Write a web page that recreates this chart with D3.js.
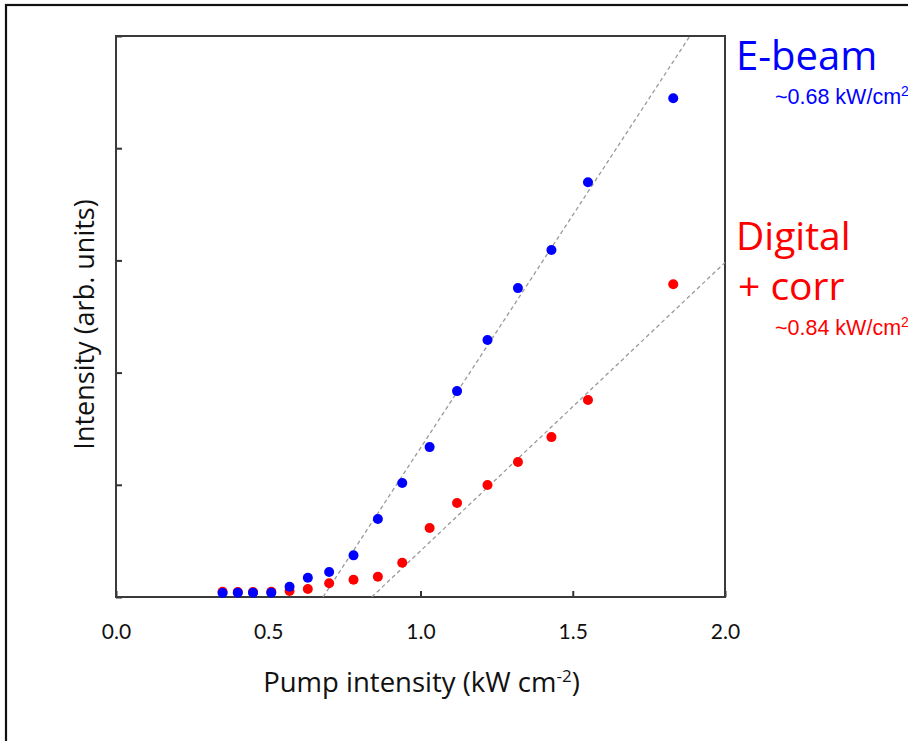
<!DOCTYPE html>
<html>
<head>
<meta charset="utf-8">
<script src="https://cdn.jsdelivr.net/npm/d3@7"></script>
<style>
  html, body { margin: 0; padding: 0; background: #fff; }
  svg { display: block; }
</style>
</head>
<body>
<script>
// Pump intensity (kW cm^-2) shared by both series
const pump = [0.35, 0.40, 0.45, 0.51, 0.57, 0.63, 0.70, 0.78, 0.86, 0.94, 1.03, 1.12, 1.22, 1.32, 1.43, 1.55, 1.83];
// Emission intensity (arb. units)
const ebeam = [0.036, 0.038, 0.038, 0.038, 0.092, 0.172, 0.223, 0.371, 0.695, 1.016, 1.336, 1.835, 2.290, 2.753, 3.092, 3.697, 4.445];
const digital = [0.047, 0.045, 0.045, 0.047, 0.053, 0.071, 0.122, 0.154, 0.181, 0.306, 0.615, 0.837, 0.998, 1.203, 1.425, 1.755, 2.788];
// Linear fits above threshold
const seriesNames = ["E-beam", "Digital"];
const thresholds = [0.68, 0.84];
const slopes = [4.15, 2.57];
const seriesColors = ["#0000ff", "#ff0000"];
// Axis ticks
const xTicks = [0, 0.5, 1.0, 1.5, 2.0];
const yTicks = [0, 1, 2, 3, 4, 5];

const W = 908, H = 741;
const plot = { left: 116, top: 36, right: 725, bottom: 597 };

const svg = d3.select("body").append("svg")
  .attr("width", W).attr("height", H);

// outer frame
svg.append("rect")
  .attr("x", 6).attr("y", 5)
  .attr("width", W + 20).attr("height", H + 20)
  .attr("fill", "none").attr("stroke", "#111").attr("stroke-width", 2.2);

const x = d3.scaleLinear().domain([0, 2]).range([plot.left, plot.right]);
const y = d3.scaleLinear().domain([0, 5]).range([plot.bottom, plot.top]);

svg.append("defs").append("clipPath").attr("id", "plotClip")
  .append("rect")
  .attr("x", plot.left).attr("y", plot.top)
  .attr("width", plot.right - plot.left).attr("height", plot.bottom - plot.top);

// axes with inward ticks
const xAxis = svg.append("g")
  .attr("transform", `translate(0,${plot.bottom})`)
  .call(d3.axisBottom(x).tickValues(xTicks).tickFormat(d3.format(".1f"))
    .tickSizeInner(-6).tickSizeOuter(0).tickPadding(27));
xAxis.select(".domain").remove();
xAxis.selectAll(".tick line").attr("stroke", "#333").attr("stroke-width", 2);
xAxis.selectAll(".tick text")
  .attr("font-family", "Lato, 'Open Sans', sans-serif")
  .attr("font-size", 21).attr("fill", "#111");

const yAxis = svg.append("g")
  .attr("transform", `translate(${plot.left},0)`)
  .call(d3.axisLeft(y).tickValues(yTicks).tickFormat("")
    .tickSizeInner(-6).tickSizeOuter(0));
yAxis.select(".domain").remove();
yAxis.selectAll(".tick line").attr("stroke", "#333").attr("stroke-width", 2);

// plot frame
svg.append("rect")
  .attr("x", plot.left).attr("y", plot.top)
  .attr("width", plot.right - plot.left).attr("height", plot.bottom - plot.top)
  .attr("fill", "none").attr("stroke", "#3a3a3a").attr("stroke-width", 2);

// fit lines
const fits = svg.append("g").attr("clip-path", "url(#plotClip)");
thresholds.forEach((t, i) => {
  fits.append("line")
    .attr("x1", x(t)).attr("y1", y(0))
    .attr("x2", x(2)).attr("y2", y(slopes[i] * (2 - t)))
    .attr("stroke", "#9a9a9a").attr("stroke-width", 1.3)
    .attr("stroke-dasharray", "4,3");
});

// data points: digital first, e-beam on top
[digital, ebeam].forEach((vals, k) => {
  const color = k === 0 ? seriesColors[1] : seriesColors[0];
  svg.append("g").selectAll("circle")
    .data(pump.map((p, i) => [p, vals[i]]))
    .join("circle")
    .attr("cx", d => x(d[0])).attr("cy", d => y(d[1]))
    .attr("r", 5).attr("fill", color);
});

// axis titles
const xt = svg.append("text")
  .attr("x", (plot.left + plot.right) / 2 + 1).attr("y", 692)
  .attr("text-anchor", "middle")
  .attr("font-family", "'Open Sans', sans-serif").attr("font-size", 27.5).attr("fill", "#111");
xt.append("tspan").text("Pump intensity (kW cm");
xt.append("tspan").attr("font-size", 17).attr("dy", -10).text("-2");
xt.append("tspan").attr("dy", 10).text(")");

svg.append("text")
  .attr("transform", `translate(94,${(plot.top + plot.bottom) / 2 + 8}) rotate(-90)`)
  .attr("text-anchor", "middle")
  .attr("font-family", "'Open Sans', sans-serif").attr("font-size", 27).attr("fill", "#111")
  .text("Intensity (arb. units)");

// series labels
const big = "'Open Sans', sans-serif";
svg.append("text").attr("x", 736).attr("y", 70)
  .attr("font-family", big).attr("font-size", 40).attr("fill", seriesColors[0])
  .text("E-beam");
svg.append("text").attr("x", 736).attr("y", 250)
  .attr("font-family", big).attr("font-size", 39).attr("fill", seriesColors[1])
  .text("Digital");
svg.append("text").attr("x", 738).attr("y", 300)
  .attr("font-family", big).attr("font-size", 39).attr("fill", seriesColors[1])
  .attr("xml:space", "preserve")
  .text("+ corr");

function thrLabel(t, yPos, color) {
  const g = svg.append("text").attr("x", 775).attr("y", yPos)
    .attr("font-family", "'Liberation Sans', Arial, sans-serif")
    .attr("font-size", 21.5).attr("fill", color);
  g.append("tspan").text(`~${t.toFixed(2)} kW/cm`);
  g.append("tspan").attr("font-size", 14).attr("dy", -8).text("2");
}
thrLabel(thresholds[0], 104, seriesColors[0]);
thrLabel(thresholds[1], 335, seriesColors[1]);
</script>
</body>
</html>
